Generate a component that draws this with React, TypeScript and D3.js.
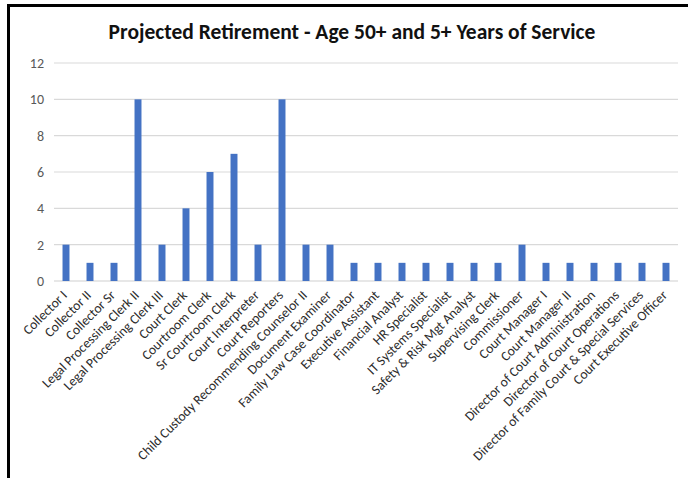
import React from "react";
import * as d3 from "d3";

const title = "Projected Retirement - Age 50+ and 5+ Years of Service";
const categories = [
  "Collector I",
  "Collector II",
  "Collector Sr",
  "Legal Processing Clerk II",
  "Legal Processing Clerk III",
  "Court Clerk",
  "Courtroom Clerk",
  "Sr Courtroom Clerk",
  "Court Interpreter",
  "Court Reporters",
  "Child Custody Recommending Counselor II",
  "Document Examiner",
  "Family Law Case Coordinator",
  "Executive Assistant",
  "Financial Analyst",
  "HR Specialist",
  "IT Systems Specialist",
  "Safety & Risk Mgt Analyst",
  "Supervising Clerk",
  "Commissioner",
  "Court Manager I",
  "Court Manager II",
  "Director of Court Administration",
  "Director of Court Operations",
  "Director of Family Court & Special Services",
  "Court Executive Officer",
];
const values = [2, 1, 1, 10, 2, 4, 6, 7, 2, 10, 2, 2, 1, 1, 1, 1, 1, 1, 1, 2, 1, 1, 1, 1, 1, 1];
const yTicks = [0, 2, 4, 6, 8, 10, 12];

const W = 688;
const H = 478;
const font = "Carlito, Calibri, Lato, 'Open Sans', sans-serif";

export default function App() {
  const x = d3
    .scaleBand<string>()
    .domain(categories)
    .range([54, 678])
    .paddingInner(0.71)
    .paddingOuter(0.355);
  const y = d3.scaleLinear().domain([0, 12]).range([281, 63]);

  return (
    <svg
      width={W}
      height={H}
      style={{ position: "absolute", left: 0, top: 0, background: "#fff" }}
      fontFamily={font}
    >
      <rect x={0} y={0} width={W} height={H} fill="#fff" />
      <rect x={8.5} y={5.5} width={W + 20} height={H + 20} fill="none" stroke="#000" strokeWidth={3} />
      <text x={352} y={39} textAnchor="middle" fontSize={21.5} fontWeight="bold" fill="#111">
        {title}
      </text>
      {yTicks.map((t) => (
        <g key={t}>
          <line x1={54} x2={678} y1={y(t)} y2={y(t)} stroke={t === 0 ? "#d0d0d0" : "#d9d9d9"} strokeWidth={1.2} />
          <text x={44} y={y(t)} dy="0.35em" textAnchor="end" fontSize={14} fill="#595959">
            {t}
          </text>
        </g>
      ))}
      {categories.map((c, i) => (
        <rect
          key={c}
          x={x(c)!}
          y={y(values[i])}
          width={x.bandwidth()}
          height={y(0) - y(values[i])}
          fill="#4472C4"
        />
      ))}
      {categories.map((c) => {
        const cx = x(c)! + x.bandwidth() / 2 + 2;
        const cy = 296;
        return (
          <text
            key={c}
            x={cx}
            y={cy}
            textAnchor="end"
            fontSize={13.6}
            fill="#2b2b2b"
            transform={`rotate(-45 ${cx} ${cy})`}
          >
            {c}
          </text>
        );
      })}
    </svg>
  );
}
